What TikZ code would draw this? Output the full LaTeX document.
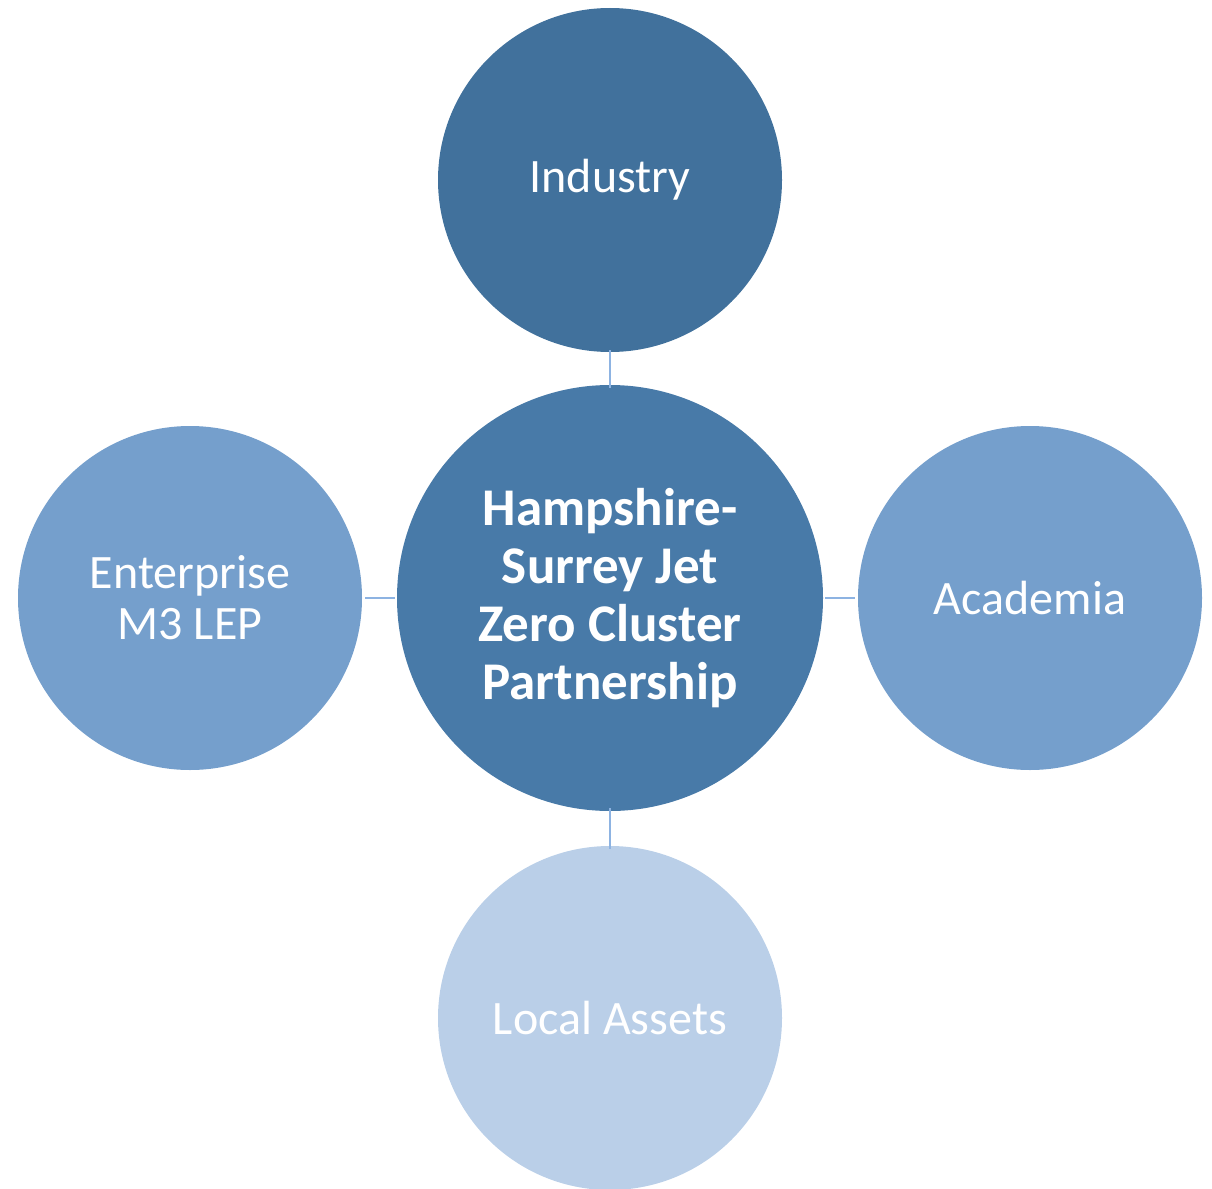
\documentclass[tikz,border=0pt]{standalone}
\usepackage{fontspec}
\setmainfont{Carlito}
\usepackage{xcolor}
\definecolor{hubblue}{HTML}{487AA8}
\definecolor{topblue}{HTML}{41719C}
\definecolor{sideblue}{HTML}{759FCC}
\definecolor{paleblue}{HTML}{BACFE8}
\definecolor{linkblue}{HTML}{8DB3E2}
\begin{document}
\begin{tikzpicture}[x=1pt,y=-1pt,
  partner/.style={circle,minimum size=344pt,inner sep=0pt,text=white,align=center,
    font=\fontsize{48}{51}\selectfont},
  hub/.style={circle,minimum size=426pt,inner sep=0pt,text=white,align=center,fill=hubblue,
    font=\fontsize{53}{58}\selectfont\bfseries},
  link/.style={draw=linkblue,line width=2.5pt}]
  \useasboundingbox (0,0) rectangle (1212,1188);
  \node[hub] (hub) at (610,598) {Hampshire-\\Surrey Jet\\Zero Cluster\\Partnership};
  \node[partner,fill=topblue] (industry) at (610,180) {Industry};
  \node[partner,fill=sideblue] (enterprise) at (190,598) {Enterprise\\M3 LEP};
  \node[partner,fill=sideblue] (academia) at (1030,598) {Academia};
  \node[partner,fill=paleblue] (assets) at (610,1018) {Local Assets};
  % short links, with a gap at each circle
  \path[link] ([yshift=2pt]industry.south) -- ([yshift=-3pt]hub.north);
  \path[link] ([xshift=3pt]enterprise.east) -- ([xshift=-2pt]hub.west);
  \path[link] ([xshift=2pt]hub.east) -- ([xshift=-3pt]academia.west);
  \path[link] ([yshift=3pt]hub.south) -- ([yshift=-3pt]assets.north);
\end{tikzpicture}
\end{document}
